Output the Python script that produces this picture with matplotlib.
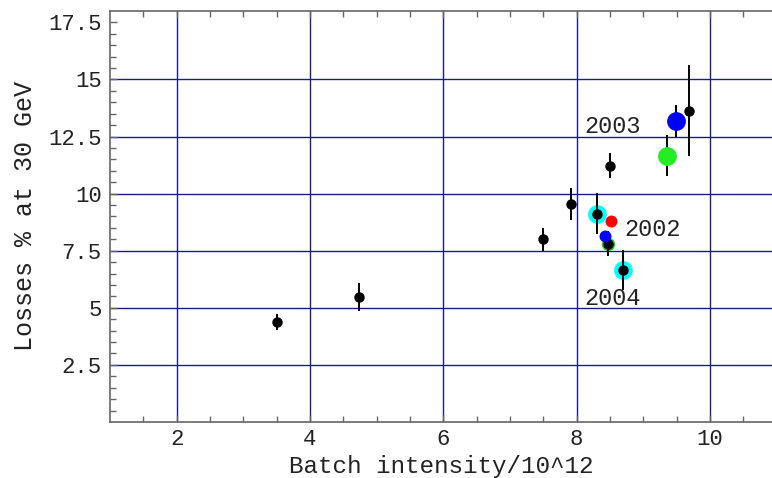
import matplotlib
matplotlib.use("Agg")
import matplotlib.pyplot as plt
import numpy as np

# black data points with error bars
bx = [3.50, 4.73, 7.50, 7.92, 8.50, 9.69, 8.31, 8.47, 8.70]
by = [4.39, 5.48, 8.00, 9.54, 11.23, 13.64, 9.12, 7.80, 6.67]
be = [0.35, 0.60, 0.50, 0.70, 0.55, 2.00, 0.90, 0.55, 0.87]

# cyan highlighted points (2004)
cx = [8.31, 8.70]
cy = [9.12, 6.67]
# green ring (small)
gx_small = [8.47]
gy_small = [7.80]

# coloured points
red_x, red_y = [8.52], [8.82]
blue_s_x, blue_s_y = [8.43], [8.16]
green_l_x, green_l_y, green_l_e = [9.36], [11.67], [0.90]
blue_l_x, blue_l_y, blue_l_e = [9.49], [13.20], [0.70]

labels = ["2003", "2002", "2004"]
label_x = [8.12, 8.72, 8.12]
label_y = [12.95, 8.42, 5.40]

xticks = [2, 4, 6, 8, 10]
yticks = [2.5, 5, 7.5, 10, 12.5, 15, 17.5]
ytick_labels = ["2.5", "5", "7.5", "10", "12.5", "15", "17.5"]
ygrid = [2.5, 5, 7.5, 10, 12.5, 15]

font = "Liberation Mono"
plt.rcParams['font.family'] = [font, 'DejaVu Sans']

fig = plt.figure(figsize=(7.72, 4.78), dpi=100)
ax = fig.add_axes([0.1425, 0.1172, 0.8575, 0.8598])
ax.set_xlim(1, 10.93)
ax.set_ylim(0, 18)

navy = "#1a1a90"
for x in xticks:
    ax.axvline(x, color=navy, lw=1.0, zorder=1)
for y in ygrid:
    ax.axhline(y, color=navy, lw=1.0, zorder=1)

ax.plot(cx, cy, 'o', color='cyan', ms=13.5, mec='none', zorder=2)
ax.plot(gx_small, gy_small, 'o', color='#00dd00', ms=9.5, mec='none', zorder=2)

ax.errorbar(bx, by, yerr=be, fmt='o', color='black', ms=6.5, elinewidth=1.4,
            capsize=0, zorder=3)
ax.errorbar(green_l_x, green_l_y, yerr=green_l_e, fmt='o', color='#22ee22',
            ecolor='black', ms=12.5, elinewidth=1.4, capsize=0, zorder=4)
ax.errorbar(blue_l_x, blue_l_y, yerr=blue_l_e, fmt='o', color='#0000ff',
            ecolor='black', ms=12.5, elinewidth=1.4, capsize=0, zorder=4)
ax.plot(red_x, red_y, 'o', color='#ff0000', ms=8.6, mec='none', zorder=5)
ax.plot(blue_s_x, blue_s_y, 'o', color='#0000ff', ms=8.6, mec='none', zorder=5)

for t, x, y in zip(labels, label_x, label_y):
    ax.text(x, y, t, fontsize=17, ha='left', va='center', color='#222222', zorder=6)

ax.set_xticks(xticks)
ax.set_xticklabels([str(v) for v in xticks])
ax.set_yticks(yticks)
ax.set_yticklabels(ytick_labels)
ax.set_xticks(np.arange(1.5, 11, 0.5), minor=True)
ax.set_yticks(np.arange(0.5, 18, 0.5), minor=True)

gray = "#666666"
ax.tick_params(axis='both', which='both', direction='in', color=gray,
               labelsize=16, labelcolor='#222222', top=True, right=False)
ax.tick_params(which='major', length=5, width=1)
ax.tick_params(which='minor', length=4, width=1)
ax.tick_params(axis='x', pad=5)
ax.tick_params(axis='y', pad=6)

for s in ['left', 'bottom', 'top']:
    ax.spines[s].set_color(gray)
    ax.spines[s].set_linewidth(1.2)
ax.spines['right'].set_visible(False)

ax.set_xlabel("Batch intensity/10^12", fontsize=17.5, color='#222222')
ax.xaxis.set_label_coords(0.5, -0.108)
ax.xaxis.label.set_va('center')
ax.set_ylabel("Losses % at 30 GeV", fontsize=18, color='#222222', labelpad=8)

fig.savefig("out.png", dpi=100)
